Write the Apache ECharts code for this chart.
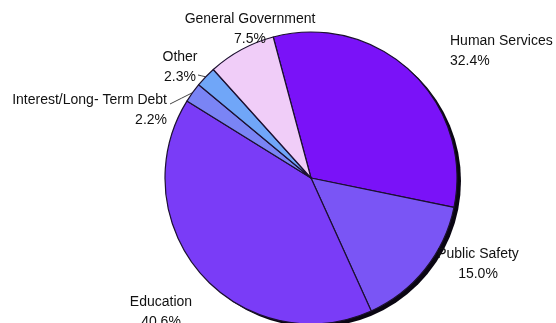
<!DOCTYPE html>
<html>
<head>
<meta charset="utf-8">
<script src="https://cdn.jsdelivr.net/npm/echarts@6/dist/echarts.min.js"></script>
<style>
  html, body { margin: 0; padding: 0; background: #fff; }
  #chart { width: 556px; height: 323px; }
</style>
</head>
<body>
<div id="chart"></div>
<script>
const categories = [
  "Human Services",
  "Public Safety",
  "Education",
  "Interest/Long- Term Debt",
  "Other",
  "General Government"
];
const shares = [32.4, 15.0, 40.6, 2.2, 2.3, 7.5];
const colors = ["#7a12f8", "#7a55f5", "#7a3cf7", "#7a84f5", "#70a6f8", "#f0cdf8"];

// label anchors (x, y, align) – layout only
const labelPos = [
  [450, 51, "left"],
  [478, 264, "center"],
  [161, 312, "center"],
  [167, 110, "right"],
  [180, 67, "center"],
  [250, 29, "center"]
];
// where the leader line leaves the label text
const leaderStart = { 3: [170, 104], 4: [198, 75] };

const chart = echarts.init(document.getElementById("chart"));

const center = [311, 178];
const radius = 146;

chart.setOption({
  animation: false,
  series: [
    {
      // dark rim / drop edge behind the pie
      type: "pie",
      silent: true,
      center: [center[0] + 4, center[1] + 3],
      radius: radius,
      label: { show: false },
      labelLine: { show: false },
      itemStyle: { color: "#0a0612", borderWidth: 0 },
      data: [{ value: shares.reduce((a, b) => a + b, 0) }]
    },
    {
      type: "pie",
      center: center,
      radius: radius,
      startAngle: 105,
      clockwise: true,
      avoidLabelOverlap: false,
      itemStyle: { borderColor: "#1c1030", borderWidth: 1.2 },
      label: {
        show: true,
        color: "#111",
        fontFamily: "Liberation Sans, Arial, sans-serif",
        fontSize: 14,
        lineHeight: 20,
        formatter: p => p.name + "\n" + p.value.toFixed(1) + "%"
      },
      labelLine: { show: false, lineStyle: { color: "#444", width: 1 } },
      labelLayout: p => {
        const [x, y, align] = labelPos[p.dataIndex];
        const out = { x, y, align, verticalAlign: "middle" };
        const s = leaderStart[p.dataIndex];
        if (s && p.labelLinePoints) {
          const e = p.labelLinePoints[0];
          out.labelLinePoints = [e, [(e[0] + s[0]) / 2, (e[1] + s[1]) / 2], s];
        }
        return out;
      },
      data: categories.map((name, i) => ({
        name,
        value: shares[i],
        itemStyle: { color: colors[i] },
        labelLine: { show: !!leaderStart[i] }
      }))
    }
  ]
});
</script>
</body>
</html>
